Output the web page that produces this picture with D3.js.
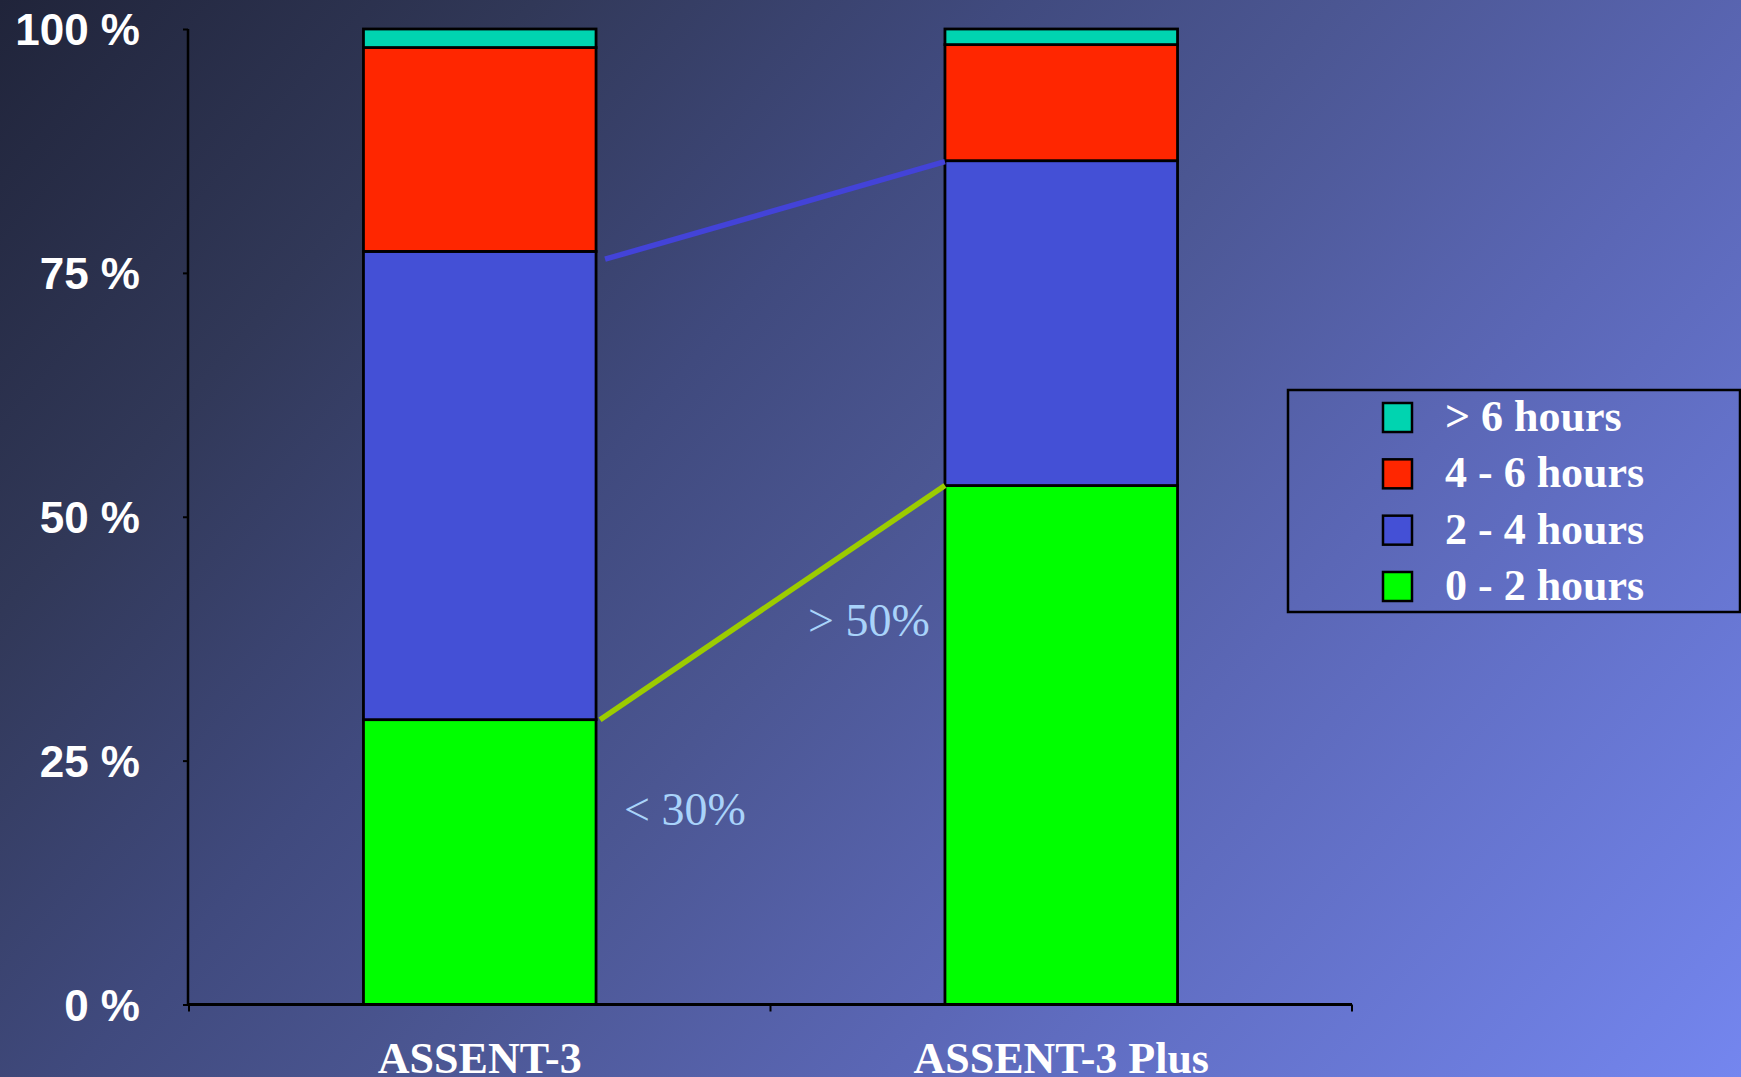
<!DOCTYPE html>
<html>
<head>
<meta charset="utf-8">
<script src="https://cdn.jsdelivr.net/npm/d3@7"></script>
<style>
  html, body { margin: 0; padding: 0; background: #22263a; }
  svg { display: block; }
</style>
</head>
<body>
<svg id="chart" width="1741" height="1077"></svg>
<script>
// ---------------- data ----------------
const categories = ["ASSENT-3", "ASSENT-3 Plus"];
const seriesNames = ["0 - 2 hours", "2 - 4 hours", "4 - 6 hours", "> 6 hours"];
const values0to2 = [29.2, 53.2];
const values2to4 = [48.0, 33.3];
const values4to6 = [20.9, 11.9];
const valuesOver6 = [1.9, 1.6];
const yTicks = [0, 25, 50, 75, 100];
const yTickLabels = ["0 %", "25 %", "50 %", "75 %", "100 %"];
const legendOrder = ["> 6 hours", "4 - 6 hours", "2 - 4 hours", "0 - 2 hours"];
// connector lines between bars (percent levels at each end)
const connectorStart = [76.4, 29.2];
const connectorEnd = [86.4, 53.2];
// annotation labels
const annotationText = ["< 30%", "> 50%"];
const annotationLevel = [18.4, 37.8];

// ---------------- styles ----------------
const colors = {
  "0 - 2 hours": "#00ff00",
  "2 - 4 hours": "#4450d6",
  "4 - 6 hours": "#ff2600",
  "> 6 hours": "#00d4b0"
};
const connectorColors = ["#4343d8", "#9ccc00"];

const W = 1741, H = 1077;
const svg = d3.select("#chart");

// background gradient
const defs = svg.append("defs");
const grad = defs.append("linearGradient").attr("id", "bg")
  .attr("x1", 0).attr("y1", 0).attr("x2", 1.193).attr("y2", 0.642);
[[0, "#20243a"], [0.2, "#313858"], [0.376, "#404a7e"], [0.5, "#4b5692"],
 [0.68, "#5b67b6"], [1, "#7486ef"]].forEach(([o, c]) =>
  grad.append("stop").attr("offset", o).attr("stop-color", c));
svg.append("rect").attr("width", W).attr("height", H).attr("fill", "url(#bg)");

// scales
const x = d3.scaleBand().domain(categories).range([189, 1352])
  .paddingInner(0.6).paddingOuter(0.3);
const step = x.step();
const y = d3.scaleLinear().domain([0, 100]).range([1004.5, 29]);

// stacked data
const table = categories.map((c, i) => ({
  cat: c,
  "0 - 2 hours": values0to2[i],
  "2 - 4 hours": values2to4[i],
  "4 - 6 hours": values4to6[i],
  "> 6 hours": valuesOver6[i]
}));
const stacked = d3.stack().keys(seriesNames)(table);

// bars
const g = svg.append("g");
stacked.forEach(layer => {
  g.selectAll(null).data(layer).enter().append("rect")
    .attr("x", d => x(d.data.cat))
    .attr("width", x.bandwidth())
    .attr("y", d => y(d[1]))
    .attr("height", d => y(d[0]) - y(d[1]))
    .attr("fill", colors[layer.key])
    .attr("stroke", "#000")
    .attr("stroke-width", 2.8);
});

// connector lines
connectorStart.forEach((v0, i) => {
  const x0 = x(categories[0]) + x.bandwidth() + (i === 0 ? 9 : 4);
  const x1 = x(categories[1]);
  svg.append("line")
    .attr("x1", x0).attr("y1", y(v0))
    .attr("x2", x1).attr("y2", y(connectorEnd[i]))
    .attr("stroke", connectorColors[i]).attr("stroke-width", 5.5);
});

// annotations
svg.append("text")
  .attr("x", x(categories[0]) + x.bandwidth() + 28)
  .attr("y", y(annotationLevel[0]))
  .attr("font-family", "'Liberation Serif', 'Times New Roman', serif")
  .attr("font-size", 46).attr("fill", "#a9d3fa")
  .text(annotationText[0]);
svg.append("text")
  .attr("x", x(categories[1]) - 137)
  .attr("y", y(annotationLevel[1]))
  .attr("font-family", "'Liberation Serif', 'Times New Roman', serif")
  .attr("font-size", 46).attr("fill", "#a9d3fa")
  .text(annotationText[1]);

// y axis
const yAxis = d3.axisLeft(y).tickValues(yTicks)
  .tickFormat((d, i) => yTickLabels[i]).tickSize(5).tickPadding(43);
const yg = svg.append("g").attr("transform", "translate(188,0)").call(yAxis);
yg.select(".domain").attr("stroke", "#000").attr("stroke-width", 2.5)
  .attr("d", `M0,${y(100)}V${y(0)}`);
yg.selectAll(".tick line").attr("stroke", "#000").attr("stroke-width", 2);
yg.selectAll(".tick text")
  .attr("font-family", "'Liberation Sans', Arial, sans-serif")
  .attr("font-weight", "bold").attr("font-size", 44).attr("fill", "#fff")
  .attr("dy", "0.36em");

// x axis
const xg = svg.append("g").attr("transform", `translate(0,${y(0)})`);
xg.append("line").attr("x1", 188).attr("x2", 1352).attr("y1", 0).attr("y2", 0)
  .attr("stroke", "#000").attr("stroke-width", 3);
const xTickPos = [189, 189 + step, 189 + 2 * step];
xg.selectAll(null).data(xTickPos).enter().append("line")
  .attr("x1", d => d).attr("x2", d => d).attr("y1", 0).attr("y2", 7)
  .attr("stroke", "#000").attr("stroke-width", 2);
xg.selectAll(null).data(categories).enter().append("text")
  .attr("x", d => x(d) + x.bandwidth() / 2)
  .attr("y", 68)
  .attr("text-anchor", "middle")
  .attr("font-family", "'Liberation Serif', 'Times New Roman', serif")
  .attr("font-weight", "bold").attr("font-size", 44).attr("fill", "#fff")
  .text(d => d);

// legend
const lg = svg.append("g").attr("transform", "translate(1288,390)");
lg.append("rect").attr("x", 0).attr("y", 0).attr("width", 452).attr("height", 222)
  .attr("fill", "none").attr("stroke", "#000").attr("stroke-width", 2.5);
const rowY = d3.scalePoint().domain(legendOrder).range([41, 210]);
legendOrder.forEach(name => {
  lg.append("rect").attr("x", 95).attr("y", rowY(name) - 28)
    .attr("width", 29).attr("height", 29)
    .attr("fill", colors[name]).attr("stroke", "#000").attr("stroke-width", 2.5);
  lg.append("text").attr("x", 157).attr("y", rowY(name))
    .attr("font-family", "'Liberation Serif', 'Times New Roman', serif")
    .attr("font-weight", "bold").attr("font-size", 44).attr("fill", "#fff")
    .text(name);
});
</script>
</body>
</html>
